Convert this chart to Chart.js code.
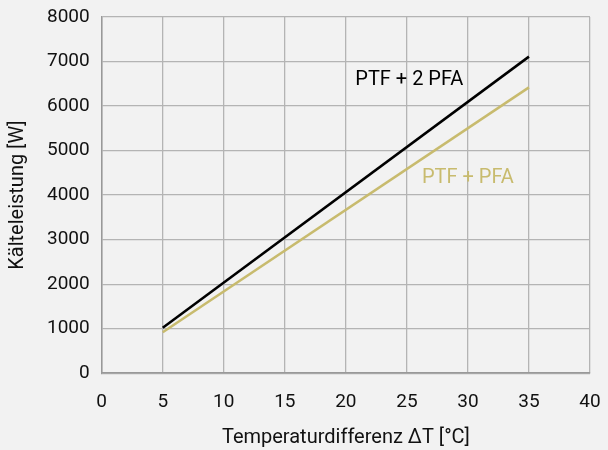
<!DOCTYPE html>
<html>
<head>
<meta charset="utf-8">
<script src="https://cdn.jsdelivr.net/npm/chart.js@4/dist/chart.umd.min.js"></script>
<style>
  html, body { margin: 0; padding: 0; background: #f2f2f2; }
  #wrap { width: 608px; height: 450px; }
</style>
</head>
<body>
<div id="wrap"><canvas id="chart"></canvas></div>
<script>
const xValues = [5, 35];
const ptf2pfa = [1020, 7110];
const ptfpfa = [920, 6420];
const labelsText = [
  { text: 'PTF + 2 PFA', x: 25.2, y: 6580, color: '#000000' },
  { text: 'PTF + PFA', x: 30, y: 4390, color: '#c8bb6e' }
];

const fontFamily = 'Roboto, sans-serif';

const lineLabels = {
  id: 'lineLabels',
  afterDatasetsDraw(chart) {
    const ctx = chart.ctx;
    const xs = chart.scales.x, ys = chart.scales.y;
    ctx.save();
    ctx.font = '20px ' + fontFamily;
    ctx.textAlign = 'center';
    ctx.textBaseline = 'middle';
    labelsText.forEach(l => {
      ctx.fillStyle = l.color;
      ctx.fillText(l.text, xs.getPixelForValue(l.x), ys.getPixelForValue(l.y));
    });
    ctx.restore();
  }
};

new Chart(document.getElementById('chart'), {
  type: 'scatter',
  data: {
    datasets: [{
      data: xValues.map((x, i) => ({ x: x, y: ptf2pfa[i] })),
      borderColor: '#000000',
      borderWidth: 2.5,
      showLine: true,
      pointRadius: 0
    }, {
      data: xValues.map((x, i) => ({ x: x, y: ptfpfa[i] })),
      borderColor: '#c8bb6e',
      borderWidth: 2.5,
      showLine: true,
      pointRadius: 0
    }]
  },
  options: {
    responsive: true,
    maintainAspectRatio: false,
    animation: false,
    layout: { padding: { top: 17, right: 18, left: 6, bottom: 0 } },
    plugins: { legend: { display: false }, tooltip: { enabled: false } },
    scales: {
      x: {
        type: 'linear',
        min: 0, max: 40,
        afterFit: s => { s.paddingRight = 0; s.paddingLeft = 0; },
        ticks: { stepSize: 5, color: '#111', font: { family: fontFamily, size: 19 }, padding: 18, maxRotation: 0 },
        grid: { color: '#b4b4b4', lineWidth: 1.3, drawTicks: false },
        border: { color: '#999', width: 1.5 },
        title: { display: true, text: 'Temperaturdifferenz ΔT [°C]', color: '#111', font: { family: fontFamily, size: 20 }, padding: { top: -6, bottom: 0 } }
      },
      y: {
        min: 0, max: 8000,
        afterFit: s => { s.paddingTop = 0; s.paddingBottom = 0; },
        ticks: { stepSize: 1000, color: '#111', font: { family: fontFamily, size: 19 }, padding: 12,
          callback: v => String(v) },
        grid: { color: '#b4b4b4', lineWidth: 1.3, drawTicks: false },
        border: { color: '#999', width: 1.5 },
        title: { display: true, text: 'Kälteleistung [W]', color: '#111', font: { family: fontFamily, size: 20 }, padding: { top: 0, bottom: 5 } }
      }
    }
  },
  plugins: [lineLabels]
});
</script>
</body>
</html>
